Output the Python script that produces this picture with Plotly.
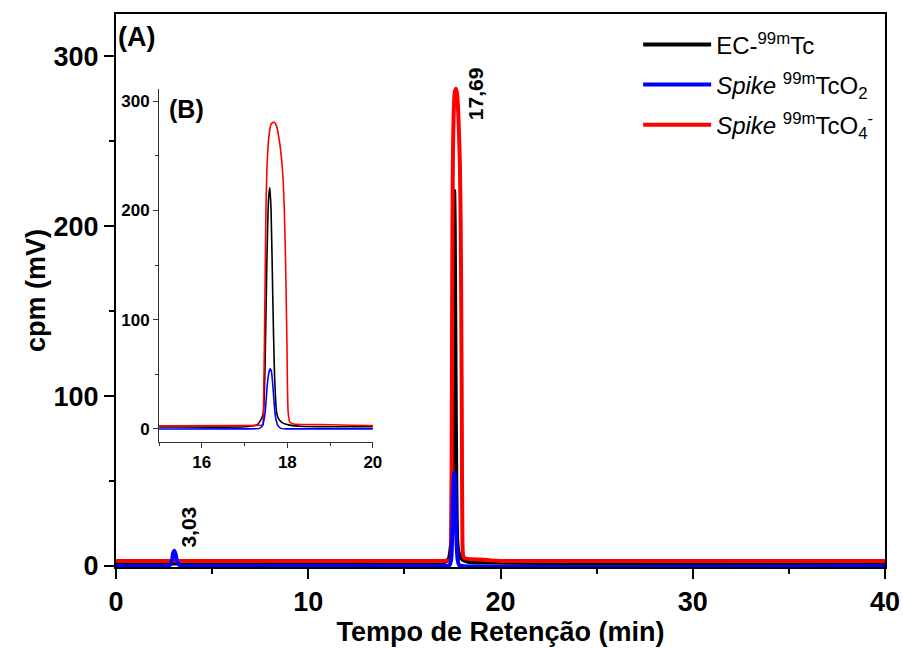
import plotly.graph_objects as go

# ---- data ----
ec_x = [0, 5, 10, 15, 17.0, 17.3, 17.4, 17.44, 17.48, 17.52, 17.56, 17.59, 17.62, 17.66,
        17.70, 17.75, 17.80, 17.87, 17.95, 18.05, 18.3, 19, 25, 40]
ec_y = [1.5, 1.5, 1.5, 1.8, 2, 4, 10, 15, 60, 150, 210, 221, 200, 120,
        50, 15, 9, 6, 4.5, 3.5, 2.5, 2, 1.8, 1.8]

tco2_x = [0, 2.6, 2.8, 2.9, 2.97, 3.03, 3.1, 3.17, 3.3, 3.5, 10, 17.0, 17.35, 17.42, 17.48,
          17.53, 17.57, 17.60, 17.63, 17.67, 17.72, 17.78, 17.85, 18, 40]
tco2_y = [0, 0, 0.5, 3, 7.5, 9, 7, 3, 0.5, 0, 0, 0, 0.5, 3, 15,
          40, 52, 55, 52, 35, 12, 3, 0.5, 0, 0]

tco4_x = [0, 10, 17.0, 17.35, 17.42, 17.44, 17.47, 17.50, 17.53, 17.57, 17.62, 17.69, 17.75,
          17.82, 17.89, 17.93, 17.96, 17.99, 18.02, 18.06, 18.15, 18.5, 19.0, 19.5, 20, 40]
tco4_y = [3, 3, 3, 3.3, 3.5, 15, 100, 200, 245, 268, 279, 281, 277,
          262, 235, 200, 150, 80, 15, 6, 4.5, 4, 3.8, 3.3, 3, 3]

names = ["EC-<sup>99m</sup>Tc",
         "<i>Spike</i> <sup>99m</sup>TcO<sub>2</sub>",
         "<i>Spike</i> <sup>99m</sup>TcO<sub>4</sub><sup>-</sup>"]
colors = ["#000000", "#0000FF", "#FF0000"]

main_xticks = [0, 10, 20, 30, 40]
main_yticks = [0, 100, 200, 300]
inset_xticks = [16, 18, 20]
inset_yticks = [0, 100, 200, 300]

peak_labels = [(17.69, "17,69"), (3.03, "3,03")]

FONT = "Liberation Sans, Arial, sans-serif"

fig = go.Figure()

series = [(ec_x, ec_y, 0), (tco4_x, tco4_y, 2), (tco2_x, tco2_y, 1)]
for xs, ys, i in series:
    fig.add_trace(go.Scatter(x=xs, y=ys, mode="lines", name=names[i],
                             line=dict(color=colors[i], width=4, shape="spline", smoothing=0.6),
                             legendrank=i + 1, legendgroup=str(i),
                             xaxis="x", yaxis="y"))
for xs, ys, i in series:
    fig.add_trace(go.Scatter(x=xs, y=ys, mode="lines", showlegend=False,
                             line=dict(color=colors[i], width=1.6, shape="spline", smoothing=0.6),
                             xaxis="x2", yaxis="y2"))

fig.update_layout(
    width=903, height=648,
    margin=dict(l=116, r=18, t=14, b=81, autoexpand=False),
    plot_bgcolor="white", paper_bgcolor="white",
    font=dict(family=FONT, color="black"),
    xaxis=dict(range=[0, 40], tickvals=main_xticks, showgrid=False, zeroline=False, automargin=False,
               showline=True, linecolor="black", linewidth=2, mirror=True,
               ticks="outside", ticklen=10, tickwidth=2, tickcolor="black",
               minor=dict(dtick=5, ticks="outside", ticklen=5, tickwidth=2, tickcolor="black"),
               tickfont=dict(size=27, weight="bold"),
               title=dict(text="Tempo de Retenção (min)", font=dict(size=27, weight="bold"), standoff=6)),
    yaxis=dict(range=[-0.6, 325], tickvals=main_yticks, showgrid=False, zeroline=False, automargin=False,
               showline=True, linecolor="black", linewidth=2, mirror=True,
               ticks="outside", ticklen=10, tickwidth=2, tickcolor="black",
               minor=dict(dtick=50, tick0=0, ticks="outside", ticklen=5, tickwidth=2, tickcolor="black"),
               tickfont=dict(size=27, weight="bold"),
               title=dict(text="cpm (mV)", font=dict(size=27, weight="bold"), standoff=0)),
    xaxis2=dict(domain=[0.056, 0.334], anchor="y2", range=[15, 20], tickvals=inset_xticks,
                showgrid=False, zeroline=False, showline=True, linecolor="#333", linewidth=1,
                automargin=False,
                ticks="outside", ticklen=5, tickwidth=1, tickcolor="#333",
                minor=dict(dtick=1, tick0=15, ticks="outside", ticklen=3, tickwidth=1, tickcolor="#333"),
                tickfont=dict(size=17, weight="bold")),
    yaxis2=dict(domain=[0.226, 0.864], anchor="x2", range=[-12, 311], tickvals=inset_yticks,
                showgrid=False, zeroline=False, showline=True, linecolor="#333", linewidth=1,
                automargin=False,
                ticks="outside", ticklen=5, tickwidth=1, tickcolor="#333",
                minor=dict(dtick=50, tick0=0, ticks="outside", ticklen=3, tickwidth=1, tickcolor="#333"),
                tickfont=dict(size=17, weight="bold")),
    legend=dict(x=0.679, y=0.985, xanchor="left", yanchor="top", bgcolor="rgba(0,0,0,0)",
                font=dict(size=24, family=FONT), itemwidth=68, tracegroupgap=6),
    showlegend=True,
)

# peak labels (rotated)
label_y = {"17,69": 278, "3,03": 23}
label_xoff = {"17,69": 1.0, "3,03": 0.75}
for px, txt in peak_labels:
    fig.add_annotation(x=px + label_xoff[txt], y=label_y[txt], xref="x", yref="y", text=txt,
                       textangle=-90, showarrow=False, xanchor="center", yanchor="middle",
                       font=dict(size=21, weight="bold"))

fig.add_annotation(x=0.0, y=0.958, xref="paper", yref="paper", text="(A)", showarrow=False,
                   xanchor="left", yanchor="middle", font=dict(size=27, weight="bold"))
fig.add_annotation(x=0.066, y=0.828, xref="paper", yref="paper", text="(B)", showarrow=False,
                   xanchor="left", yanchor="middle", font=dict(size=25, weight="bold"))

fig.write_html("out.html")
